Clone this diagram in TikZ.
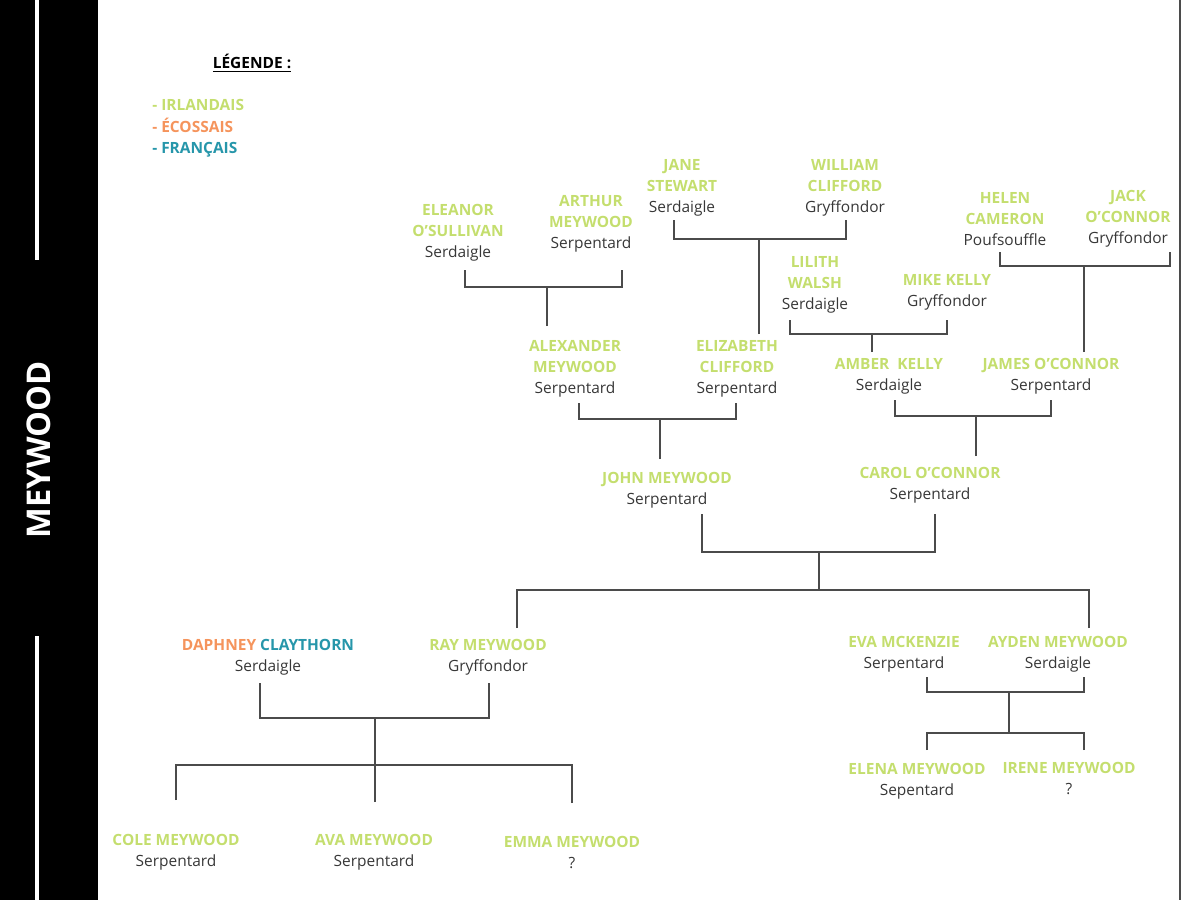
\documentclass[tikz,border=0pt]{standalone}
\usepackage{fontspec}
\setmainfont{Open Sans}
\usepackage{xcolor}
\usepackage{tikz}
\definecolor{irish}{RGB}{196,222,110}
\definecolor{scots}{RGB}{245,148,92}
\definecolor{french}{RGB}{38,150,170}
\definecolor{house}{RGB}{55,55,55}
\definecolor{treeline}{RGB}{75,75,75}
\tikzset{person/.style={align=center, inner sep=0pt, text=house, font=\fontsize{11.6}{15.75}\selectfont},
  key/.style={anchor=base west, inner sep=0pt, font=\fontsize{11.6}{15.75}\selectfont\bfseries},
  link/.style={draw=treeline, line width=1.1pt}}
\newcommand{\nm}[1]{\textcolor{irish}{\textbf{#1}}}

\begin{document}
\begin{tikzpicture}[x=0.75pt, y=-0.75pt]
    \useasboundingbox (0,0) rectangle (1182,900);
    \fill [black] (0,0) rectangle (98,900);
    \fill [white] (34.5,0) rectangle (39,260);
    \fill [white] (34.5,636) rectangle (39,900);
    \draw [treeline, line width=0.9pt] (1180,0) -- (1180,900);
    \node [rotate=90, text=white, font=\fontsize{24.5}{30}\selectfont\bfseries] (title) at (39,450) {MEYWOOD};
    \node [font=\fontsize{11.6}{15.75}\selectfont\bfseries] (legend) at (252,63) {\underline{LÉGENDE :}};
    \node [key, text=irish] (irl) at (152,110.5) {- IRLANDAIS};
    \node [key, text=scots] (eco) at (152,132.5) {- ÉCOSSAIS};
    \node [key, text=french] (fra) at (152,153.5) {- FRANÇAIS};
    \node [person] (eleanor) at (458,233) {\nm{ELEANOR}\\\nm{O'SULLIVAN}\\Serdaigle};
    \node [person] (arthur) at (591,224) {\nm{ARTHUR}\\\nm{MEYWOOD}\\Serpentard};
    \node [person] (jane) at (682,188) {\nm{JANE}\\\nm{STEWART}\\Serdaigle};
    \node [person] (william) at (845,188) {\nm{WILLIAM}\\\nm{CLIFFORD}\\Gryffondor};
    \node [person] (lilith) at (815,285) {\nm{LILITH}\\\nm{WALSH}\\Serdaigle};
    \node [person] (mike) at (947,292) {\nm{MIKE KELLY}\\Gryffondor};
    \node [person] (helen) at (1005,219) {\nm{HELEN}\\\nm{CAMERON}\\Poufsouffle};
    \node [person] (jack) at (1128,219) {\nm{JACK}\\\nm{O'CONNOR}\\Gryffondor};
    \node [person] (alexander) at (575,369) {\nm{ALEXANDER}\\\nm{MEYWOOD}\\Serpentard};
    \node [person] (elizabeth) at (737,369) {\nm{ELIZABETH}\\\nm{CLIFFORD}\\Serpentard};
    \node [person] (amber) at (889,376) {\nm{AMBER~~KELLY}\\Serdaigle};
    \node [person] (james) at (1051,376) {\nm{JAMES O'CONNOR}\\Serpentard};
    \node [person] (john) at (667,490) {\nm{JOHN MEYWOOD}\\Serpentard};
    \node [person] (carol) at (930,485) {\nm{CAROL O'CONNOR}\\Serpentard};
    \node [person] (daphney) at (268,657) {\textcolor{scots}{\textbf{DAPHNEY}} \textcolor{french}{\textbf{CLAYTHORN}}\\Serdaigle};
    \node [person] (ray) at (488,657) {\nm{RAY MEYWOOD}\\Gryffondor};
    \node [person] (eva) at (904,654) {\nm{EVA MCKENZIE}\\Serpentard};
    \node [person] (ayden) at (1058,654) {\nm{AYDEN MEYWOOD}\\Serdaigle};
    \node [person] (cole) at (176,852) {\nm{COLE MEYWOOD}\\Serpentard};
    \node [person] (ava) at (374,852) {\nm{AVA MEYWOOD}\\Serpentard};
    \node [person] (emma) at (572,852) {\nm{EMMA MEYWOOD}\\?};
    \node [person] (elena) at (917,781) {\nm{ELENA MEYWOOD}\\Sepentard};
    \node [person] (irene) at (1069,778) {\nm{IRENE MEYWOOD}\\?};
    \coordinate (j1) at (547,287);
    \coordinate (j2) at (759,239);
    \coordinate (j3) at (872,334);
    \coordinate (j4) at (1084,266);
    \coordinate (j5) at (660,419);
    \coordinate (j6) at (976,416);
    \coordinate (j7) at (819,552);
    \coordinate (s7) at (819,590);
    \coordinate (j8) at (375,718);
    \coordinate (s8) at (375,765);
    \coordinate (j9) at (1009,692);
    \coordinate (s9) at (1009,733);
    \draw [link] (eleanor.center) ++(7,37) |- (j1);
    \draw [link] (arthur.center) ++(31,46) |- (j1);
    \draw [link] (alexander.center) ++(-28,-43) -- (j1);
    \draw [link] (jane.center) ++(-8,32) |- (j2);
    \draw [link] (william.center) ++(1,32) |- (j2);
    \draw [link] (elizabeth.center) ++(22,-35) -- (j2);
    \draw [link] (lilith.center) ++(-25,35) |- (j3);
    \draw [link] (mike.center) ++(0,28) |- (j3);
    \draw [link] (amber.center) ++(-17,-24) -- (j3);
    \draw [link] (helen.center) ++(-5,33) |- (j4);
    \draw [link] (jack.center) ++(42,33) |- (j4);
    \draw [link] (james.center) ++(33,-24) -- (j4);
    \draw [link] (alexander.center) ++(4,34) |- (j5);
    \draw [link] (elizabeth.center) ++(-1,34) |- (j5);
    \draw [link] (john.center) ++(-7,-31) -- (j5);
    \draw [link] (amber.center) ++(6,24) |- (j6);
    \draw [link] (james.center) ++(0,24) |- (j6);
    \draw [link] (carol.center) ++(46,-29) -- (j6);
    \draw [link] (john.center) ++(35,24) |- (j7);
    \draw [link] (carol.center) ++(5,29) |- (j7);
    \draw [link] (j7) -- (s7);
    \draw [link] (ray.center) ++(29,-29) |- (s7);
    \draw [link] (ayden.center) ++(31,-26) |- (s7);
    \draw [link] (daphney.center) ++(-8,26) |- (j8);
    \draw [link] (ray.center) ++(1,26) |- (j8);
    \draw [link] (j8) -- (s8);
    \draw [link] (cole.center) ++(0,-52) |- (s8);
    \draw [link] (ava.center) ++(1,-50) -- (s8);
    \draw [link] (emma.center) ++(0,-49) |- (s8);
    \draw [link] (eva.center) ++(23,23) |- (j9);
    \draw [link] (ayden.center) ++(26,23) |- (j9);
    \draw [link] (j9) -- (s9);
    \draw [link] (elena.center) ++(10,-31) |- (s9);
    \draw [link] (irene.center) ++(15,-28) |- (s9);
\end{tikzpicture}
\end{document}
